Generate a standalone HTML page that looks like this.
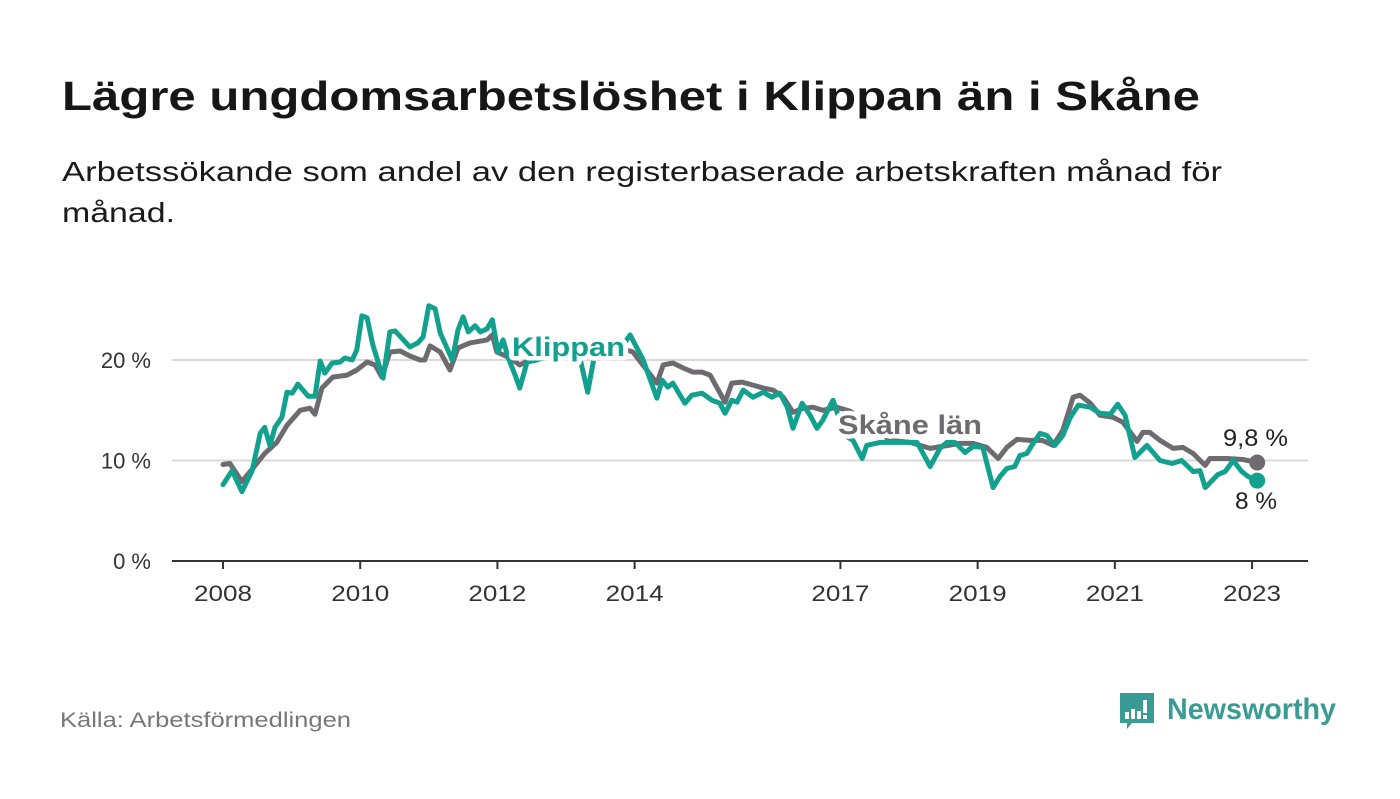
<!DOCTYPE html>
<html><head><meta charset="utf-8"><style>
html,body{margin:0;padding:0;background:#fff;}
body{width:1400px;height:794px;overflow:hidden;font-family:"Liberation Sans",sans-serif;}
</style></head><body>
<svg id="chart" width="1400" height="794" viewBox="0 0 1400 794" xmlns="http://www.w3.org/2000/svg">
<text x="62" y="110" font-size="41" font-weight="bold" fill="#161616" textLength="1138" lengthAdjust="spacingAndGlyphs">Lägre ungdomsarbetslöshet i Klippan än i Skåne</text>
<text x="62" y="181" font-size="28" fill="#1a1a1a" textLength="1160" lengthAdjust="spacingAndGlyphs">Arbetssökande som andel av den registerbaserade arbetskraften månad för</text>
<text x="62" y="222" font-size="28" fill="#1a1a1a" textLength="113" lengthAdjust="spacingAndGlyphs">månad.</text>
<g id="grid"></g>
<g id="xaxis"></g>
<g id="series"></g>
<g id="labels"></g>
<text x="60" y="727" font-size="21" fill="#777" textLength="291" lengthAdjust="spacingAndGlyphs">Källa: Arbetsförmedlingen</text>
<g>
<path d="M1120 693 h34 v30 h-22 l-5 6 v-6 h-7 z" fill="#3a9a94"/>
<rect x="1125" y="712" width="4" height="7" fill="#fff"/>
<rect x="1131" y="709" width="4" height="10" fill="#fff"/>
<rect x="1137" y="711" width="4" height="8" fill="#fff"/>
<rect x="1143" y="700" width="4" height="13" fill="#fff"/>
<rect x="1143" y="715" width="4" height="4" fill="#fff"/>
<text x="1167" y="719" font-size="30" font-weight="bold" fill="#3a9a94" textLength="169" lengthAdjust="spacingAndGlyphs">Newsworthy</text>
</g>
</svg>
<script>
const yTicks = [0, 10, 20];
const yTickLabels = ["0 %", "10 %", "20 %"];
const xTickMonths = [0, 24, 48, 72, 108, 132, 156, 180];
const xTickLabels = ["2008", "2010", "2012", "2014", "2017", "2019", "2021", "2023"];
const klippanMonths = [0,1.6,3.3,5.1,6.5,7.3,8.2,9.1,10.3,11.2,12.1,13.1,14.9,16.1,17,17.8,19.1,20.5,21.3,22.6,23.4,24.3,25.2,26.2,28,29.2,30.1,32.7,34.1,35,36,37.1,38,40.1,41.1,42,42.9,44.1,45,46.2,47.1,48.1,49,49.9,51.1,51.9,53.2,54.9,57.2,59.8,62.4,63.8,64.9,66.8,69.4,71.2,73.5,75.9,76.8,77.8,78.7,80.8,82,83.8,85.5,86.9,87.8,89,89.9,91,92.7,94.5,96,97.4,98.7,99.7,101.3,102.7,103.9,104.9,106.7,108.8,110.2,111.8,112.6,114.9,118.4,121.4,123.7,125.4,126.6,128,129.8,131.2,132.9,134.7,135.9,137.1,138.5,139.4,140.6,141.7,142.9,144.1,145.5,146.9,148.2,149.6,151.7,153.4,155.2,156.5,157.8,159.5,161.6,163.9,166,167.7,169.7,170.9,171.8,174,175.3,176.7,178.2,179.3,180.9];
const klippanValues = [7.6,9,6.9,9,12.7,13.3,11.5,13.3,14.3,16.8,16.7,17.6,16.4,16.4,19.9,18.7,19.7,19.8,20.2,20,21,24.4,24.2,21.5,18.2,22.8,22.9,21.3,21.7,22.3,25.4,25.1,22.7,20,23,24.3,22.8,23.4,22.8,23.1,24,20.8,22,20.2,18.5,17.2,19.8,20,20.5,20.8,20.3,16.8,20.2,21,21,22.5,20,16.2,18,17.3,17.7,15.7,16.5,16.7,16,15.7,14.7,16,15.8,17,16.3,16.8,16.3,16.7,15.3,13.2,15.7,14.5,13.2,14,16,12.5,12,10.2,11.5,11.8,11.8,11.8,9.4,11.2,11.8,11.8,10.8,11.4,11.3,7.3,8.4,9.2,9.4,10.5,10.7,11.7,12.7,12.5,11.5,12.5,14.3,15.5,15.3,14.7,14.6,15.6,14.5,10.3,11.5,10,9.7,10,8.9,9,7.3,8.6,8.9,10,8.9,8.4,8];
const skaneMonths = [0,1.2,3.3,5.2,7.3,9.4,11.2,13.5,15.2,16.1,17.3,19.2,21.7,23.4,25.2,26.6,27.8,29.2,31,32.7,34.5,35.3,36.2,38,39.7,41.1,43.2,46.2,47.1,47.9,50.2,51.9,55.4,58.9,62.4,65.9,69.4,71.7,75.9,77,78.7,80.5,82.2,83.8,85.2,87.8,89,90.8,92.7,94.5,96.2,98,99.7,101.5,103.2,104.9,107.4,109.7,113.2,116.7,120.2,123.7,128.9,131.2,133.6,135.6,137.1,138.9,141.2,143.3,145.2,146.9,148.7,149.9,151.7,153.4,155.7,157.4,159.9,160.9,162.1,163.9,166.2,167.9,169.7,171.8,172.6,175.6,178.4,180.9];
const skaneValues = [9.6,9.7,7.9,9.2,10.7,11.8,13.5,15,15.2,14.6,17.2,18.3,18.5,19,19.8,19.5,18.3,20.8,20.9,20.4,20,20,21.4,20.8,19,21.2,21.7,22,22.5,20.8,20.2,19.5,20.5,20.8,20.8,21,21.2,20.8,17.7,19.5,19.7,19.2,18.8,18.8,18.5,15.8,17.7,17.8,17.5,17.2,17,16.3,14.8,15.2,15.3,15,15.3,14.9,13.5,12,11.8,11.2,11.7,11.7,11.3,10.2,11.3,12.1,12,12,11.5,13,16.3,16.5,15.7,14.5,14.3,13.8,11.9,12.8,12.8,12,11.2,11.3,10.7,9.5,10.2,10.2,10.1,9.8];
const endLabels = ["9,8 %", "8 %"];

const NS = "http://www.w3.org/2000/svg";
const X0 = 223, PXM = 5.717, Y0 = 561, PXV = 10.05;
function xs(m){ return X0 + m * PXM; }
function ys(v){ return Y0 - v * PXV; }
function mk(tag, attrs, parent){ const e = document.createElementNS(NS, tag); for (const k in attrs) e.setAttribute(k, attrs[k]); parent.appendChild(e); return e; }

const grid = document.getElementById('grid');
yTicks.forEach((t, i) => {
  if (t > 0) {
    const l = mk('line', {x1:172, x2:1308, y1:ys(t), y2:ys(t), stroke:'#d9d9d9', 'stroke-width':2}, grid);
    
    
  }
  const tx = mk('text', {x:151, y:ys(t)+8, 'text-anchor':'end', 'font-size':22, fill:'#333'}, grid);
  tx.textContent = yTickLabels[i];
  
  
});
const xa = document.getElementById('xaxis');
const axis = mk('line', {x1:172, x2:1308, y1:Y0, y2:Y0, stroke:'#333', 'stroke-width':2}, xa);


xTickMonths.forEach((m, i) => {
  const tk = mk('line', {x1:xs(m), x2:xs(m), y1:Y0, y2:Y0+8, stroke:'#333', 'stroke-width':2}, xa);
  
  
  const tx = mk('text', {x:xs(m) - 29, y:601, 'font-size':22, fill:'#333', textLength:58, lengthAdjust:'spacingAndGlyphs'}, xa);
  tx.textContent = xTickLabels[i];
  
  
});

const ser = document.getElementById('series');
function line(ms, vs, color, name){
  const d = ms.map((m, i) => (i ? 'L' : 'M') + xs(m).toFixed(1) + ' ' + ys(vs[i]).toFixed(1)).join(' ');
  const p = mk('path', {d:d, fill:'none', stroke:color, 'stroke-width':5, 'stroke-linejoin':'round', 'stroke-linecap':'round'}, ser);
  
  
  const n = ms.length - 1;
  const c = mk('circle', {cx:xs(ms[n]), cy:ys(vs[n]), r:8, fill:color}, ser);
  
  
}
line(skaneMonths, skaneValues, '#6d6b70', 'skane-line');
line(klippanMonths, klippanValues, '#12a08f', 'klippan-line');

const lab = document.getElementById('labels');
function label(x, y, txt, color, bold, name, w, size){
  const t = mk('text', {x:x, y:y, 'font-size':size, 'font-weight':bold ? 'bold' : 'normal', fill:color, stroke:'#fff', 'stroke-width':bold ? 9 : 6, 'paint-order':'stroke', 'stroke-linejoin':'round', textLength:w, lengthAdjust:'spacingAndGlyphs'}, lab);
  t.textContent = txt;
  
  
}
label(512, 356, 'Klippan', '#12a08f', true, 'klippan-series-label', 113, 27);
label(838, 434, 'Skåne län', '#6d6b70', true, 'skane-series-label', 144, 27);
label(1223, 446, endLabels[0], '#222', false, 'skane-end-value', 65, 24);
label(1235, 509, endLabels[1], '#222', false, 'klippan-end-value', 42, 24);
</script>
</body></html>
